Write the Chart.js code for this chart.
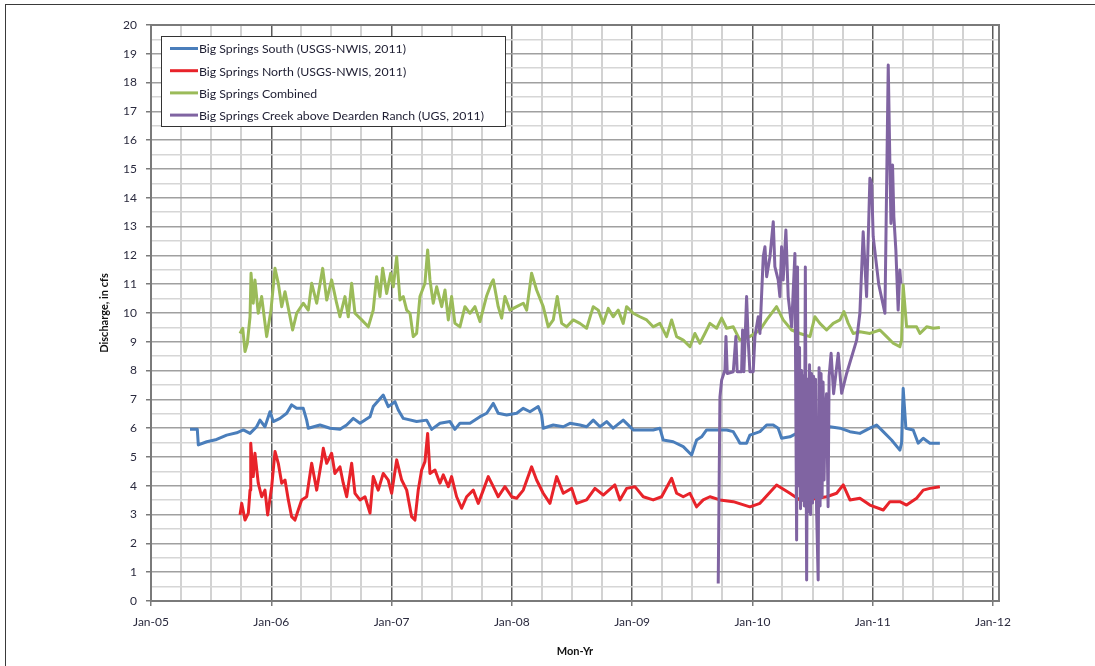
<!DOCTYPE html>
<html>
<head>
<meta charset="utf-8">
<script src="https://cdn.jsdelivr.net/npm/chart.js@4.4.0/dist/chart.umd.min.js"></script>
<style>
html,body{margin:0;padding:0;background:#fff;}
#wrap{position:relative;width:1095px;height:666px;overflow:hidden;background:#fff;}
#frame{position:absolute;left:5px;top:4px;width:1200px;height:800px;border-top:1px solid #3a3a3a;border-left:1px solid #3a3a3a;}
canvas{position:absolute;left:0;top:0;}
</style>
</head>
<body>
<div id="wrap"><div id="frame"></div><canvas id="c" width="1095" height="666"></canvas></div>
<script>
// x values: months since Jan 2005; y values: discharge in cfs
const seriesNames = [
  'Big Springs South (USGS-NWIS, 2011)',
  'Big Springs North (USGS-NWIS, 2011)',
  'Big Springs Combined',
  'Big Springs Creek above Dearden Ranch (UGS, 2011)'
];
const yearTickLabels = ['Jan-05','Jan-06','Jan-07','Jan-08','Jan-09','Jan-10','Jan-11','Jan-12'];

const southSeries = [
  [3.89,5.96],[4.62,5.96],[4.72,5.42],[5.56,5.53],[6.55,5.61],[7.55,5.76],[8.55,5.84],[9.21,5.94],[9.88,5.82],
  [10.54,6.05],[10.87,6.28],[11.37,6.05],[11.87,6.57],[12.2,6.23],[12.87,6.34],[13.54,6.52],[14.03,6.81],[14.53,6.69],
  [15.19,6.69],[15.53,6.28],[15.69,6.0],[16.86,6.11],[17.86,6.0],[18.85,5.96],[19.52,6.11],[20.18,6.34],[20.85,6.17],
  [21.85,6.40],[22.17,6.75],[23.17,7.15],[23.67,6.75],[24.34,6.92],[24.67,6.63],[25.17,6.34],[26.5,6.23],[27.5,6.28],
  [28.0,5.96],[28.83,6.17],[29.83,6.23],[30.32,5.96],[30.82,6.17],[31.82,6.17],[32.82,6.40],[33.49,6.52],[34.15,6.86],
  [34.64,6.52],[35.48,6.46],[36.48,6.52],[37.14,6.69],[37.81,6.57],[38.63,6.75],[38.97,6.46],[39.13,6.0],[40.13,6.11],
  [41.13,6.05],[41.8,6.17],[42.79,6.11],[43.46,6.05],[44.12,6.28],[44.79,6.05],[45.46,6.23],[46.11,6.0],[47.11,6.28],
  [48.11,5.94],[49.11,5.94],[50.1,5.94],[50.77,6.0],[51.1,5.59],[52.1,5.53],[53.1,5.36],[53.93,5.07],[54.43,5.59],
  [54.93,5.70],[55.43,5.94],[56.76,5.94],[57.43,5.94],[58.09,5.88],[58.58,5.59],[58.75,5.48],[59.42,5.48],[59.75,5.76],
  [60.75,5.88],[61.42,6.11],[62.08,6.11],[62.57,6.0],[62.91,5.65],[63.74,5.70],[64.41,5.82],[65.07,5.94],[66.23,5.9],
  [67.73,6.05],[68.73,6.0],[69.73,5.88],[70.72,5.82],[71.72,6.0],[72.39,6.11],[73.05,5.88],[73.88,5.59],[74.71,5.24],
  [74.88,5.48],[75.04,7.38],[75.31,6.0],[76.04,5.94],[76.54,5.48],[77.04,5.65],[77.71,5.48],[78.7,5.48]
];

const northSeries = [
  [8.88,2.99],[9.05,3.39],[9.38,2.81],[9.71,3.05],[9.88,3.85],[9.95,5.48],[10.2,4.32],[10.37,5.13],[10.7,4.09],
  [11.04,3.62],[11.37,3.85],[11.64,2.99],[12.04,3.97],[12.37,5.19],[12.7,4.78],[13.04,4.09],[13.37,4.20],[13.7,3.51],
  [14.03,2.93],[14.36,2.81],[14.69,3.16],[15.03,3.51],[15.53,3.62],[16.03,4.78],[16.53,3.85],[17.03,4.90],[17.19,5.30],
  [17.53,4.78],[18.02,5.13],[18.35,4.43],[18.85,4.66],[19.18,4.09],[19.52,3.62],[20.02,4.78],[20.35,3.74],[20.85,3.51],
  [21.35,3.62],[21.85,3.05],[22.17,4.32],[22.67,3.85],[23.17,4.43],[23.67,4.20],[24.01,3.74],[24.51,4.90],[25.01,4.20],
  [25.51,3.85],[26.0,2.93],[26.33,2.81],[26.66,3.85],[27.0,4.55],[27.33,4.84],[27.6,5.82],[27.83,4.43],[28.33,4.55],
  [28.83,4.09],[29.16,4.38],[29.66,3.97],[29.99,4.32],[30.49,3.62],[30.99,3.22],[31.49,3.62],[32.15,3.85],[32.65,3.39],
  [33.15,3.85],[33.65,4.32],[34.15,3.97],[34.64,3.62],[35.31,3.97],[35.98,3.62],[36.48,3.57],[37.14,3.85],[37.97,4.66],
  [38.47,4.20],[39.13,3.74],[39.8,3.39],[40.47,4.32],[41.13,3.74],[41.97,3.91],[42.46,3.39],[43.46,3.51],[44.29,3.91],
  [45.12,3.68],[46.28,4.03],[46.78,3.51],[47.45,3.91],[48.28,3.97],[49.11,3.62],[50.1,3.51],[50.94,3.62],[51.94,4.26],
  [52.44,3.74],[53.1,3.62],[53.77,3.74],[54.43,3.27],[55.09,3.51],[55.76,3.62],[56.76,3.51],[58.09,3.45],[59.75,3.27],
  [60.75,3.39],[62.41,4.03],[63.74,3.74],[64.74,3.51],[66.23,3.55],[67.4,3.62],[68.4,3.74],[69.06,4.03],[69.73,3.51],
  [70.72,3.57],[71.72,3.33],[73.05,3.16],[73.72,3.45],[74.71,3.45],[75.38,3.33],[76.38,3.57],[77.04,3.85],[77.71,3.91],
  [78.7,3.97]
];

const combinedSeries = [
  [8.88,9.29],[9.15,9.47],[9.38,8.66],[9.61,8.95],[9.88,9.87],[9.98,11.38],[10.2,10.34],[10.37,11.15],[10.7,9.99],
  [11.04,10.57],[11.54,9.18],[11.97,10.1],[12.37,11.55],[12.7,11.03],[13.04,10.22],[13.37,10.74],[13.8,9.99],[14.13,9.41],
  [14.53,9.99],[15.19,10.34],[15.69,10.1],[16.03,11.03],[16.53,10.34],[17.13,11.55],[17.53,10.45],[18.02,11.15],[18.52,10.34],
  [18.85,9.87],[19.35,10.57],[19.68,9.87],[20.02,11.03],[20.35,9.99],[21.02,9.76],[21.68,9.52],[22.17,10.1],[22.51,11.26],
  [22.84,10.57],[23.11,11.55],[23.51,10.68],[23.91,11.38],[24.17,10.91],[24.51,11.95],[24.84,10.45],[25.17,10.57],[25.51,10.1],
  [25.84,9.99],[26.16,9.18],[26.5,9.29],[26.83,10.57],[27.33,11.03],[27.6,12.19],[27.83,11.15],[28.16,10.34],[28.5,10.91],
  [29.0,10.22],[29.33,10.80],[29.66,9.76],[29.99,10.57],[30.32,9.64],[30.82,9.52],[31.32,10.22],[31.82,9.99],[32.32,10.22],
  [32.82,9.7],[33.49,10.6],[33.98,11.05],[34.15,11.15],[34.64,10.22],[34.98,9.82],[35.31,10.57],[35.81,10.1],[36.48,10.22],
  [37.14,10.34],[37.48,10.1],[37.97,11.38],[38.47,10.80],[39.13,10.22],[39.63,9.52],[40.13,9.76],[40.53,10.57],[40.97,9.64],
  [41.47,9.52],[42.13,9.76],[42.79,9.64],[43.46,9.47],[44.12,10.22],[44.62,10.1],[45.12,9.64],[45.62,10.16],[46.11,9.87],
  [46.61,10.1],[47.11,9.64],[47.45,10.22],[48.11,9.99],[48.78,9.87],[49.45,9.76],[50.1,9.52],[50.77,9.64],[51.44,9.18],
  [51.94,9.76],[52.44,9.18],[53.1,9.06],[53.77,8.83],[54.26,9.29],[54.76,8.95],[55.26,9.29],[55.76,9.64],[56.43,9.47],
  [56.93,9.82],[57.43,9.47],[58.09,9.52],[58.75,9.06],[59.75,9.18],[60.75,9.41],[61.42,9.76],[62.41,10.22],[63.07,9.76],
  [63.91,9.41],[64.74,9.29],[65.74,9.18],[66.23,9.87],[66.73,9.64],[67.4,9.41],[68.06,9.64],[68.73,9.76],[69.13,10.05],
  [69.56,9.64],[70.05,9.29],[70.72,9.35],[71.72,9.29],[72.72,9.41],[73.39,9.18],[74.05,8.95],[74.71,8.83],[74.88,9.06],
  [75.04,10.97],[75.38,9.52],[76.38,9.52],[76.71,9.29],[77.38,9.52],[78.04,9.47],[78.7,9.5]
];

const creekSeries = [
  [56.59,0.61],[56.76,7.09],[56.93,7.67],[57.26,8.02],[57.36,9.18],[57.49,7.9],[58.09,7.96],[58.35,9.18],[58.48,7.96],
  [58.92,7.96],[59.02,9.41],[59.15,7.96],[59.42,10.57],[59.58,9.06],[59.75,7.96],[60.08,7.96],[60.25,9.18],[60.58,9.87],
  [60.75,9.29],[61.08,11.95],[61.25,12.30],[61.42,11.26],[61.75,11.95],[62.08,13.17],[62.24,11.61],[62.57,11.15],[62.74,10.57],
  [62.91,12.30],[63.07,11.15],[63.34,12.88],[63.57,10.57],[63.91,9.52],[64.24,12.07],[64.41,2.12],[64.5,11.6],[64.6,4.0],
  [64.7,8.8],[64.8,3.2],[64.91,8.0],[65.0,3.5],[65.08,7.8],[65.18,3.3],[65.28,11.6],[65.41,0.73],[65.5,7.7],
  [65.6,3.1],[65.7,8.2],[65.8,3.0],[65.9,7.9],[66.0,3.4],[66.1,7.8],[66.2,3.6],[66.3,7.7],[66.4,3.2],
  [66.56,0.73],[66.65,8.1],[66.75,3.3],[66.85,7.9],[66.95,3.6],[67.05,7.6],[67.15,4.2],[67.25,6.5],[67.4,7.2],
  [67.55,3.27],[67.65,7.8],[67.85,8.6],[68.1,7.2],[68.56,8.6],[68.9,7.21],[69.4,7.90],[69.9,8.48],[70.4,9.06],
  [70.72,9.99],[71.05,12.82],[71.39,10.57],[71.55,12.53],[71.72,14.68],[71.89,14.50],[72.05,12.65],[72.6,11.0],[73.22,9.99],
  [73.55,18.61],[73.72,15.08],[73.82,13.11],[73.98,15.14],[74.11,13.34],[74.31,12.19],[74.54,10.1],[74.71,11.49],[74.81,11.03]
];

const seriesColors = ['#4a7ebb', '#e8232a', '#9bbb59', '#8064a2'];

const toPoints = s => s.map(p => ({x: p[0], y: p[1]}));

const legendBox = {
  id: 'legendBox',
  afterDatasetsDraw(chart) {
    const ctx = chart.ctx, a = chart.chartArea;
    const x0 = a.left + 10, y0 = a.top + 11, w = 344, h = 90;
    ctx.save();
    ctx.fillStyle = '#fff';
    ctx.fillRect(x0, y0, w, h);
    ctx.strokeStyle = '#333333';
    ctx.lineWidth = 1;
    ctx.strokeRect(x0 + 0.5, y0 + 0.5, w, h);
    ctx.font = '12.3px Lato';
    ctx.textBaseline = 'middle';
    ctx.textAlign = 'left';
    chart.data.datasets.forEach((ds, i) => {
      const y = y0 + 12.5 + i * 22.2;
      ctx.strokeStyle = ds.borderColor;
      ctx.lineWidth = 3;
      ctx.beginPath();
      ctx.moveTo(x0 + 9, y);
      ctx.lineTo(x0 + 37, y);
      ctx.stroke();
      ctx.fillStyle = '#1e1e32';
      ctx.fillText(ds.label, x0 + 38, y + 1);
    });
    ctx.restore();
  }
};

const plotBorder = {
  id: 'plotBorder',
  afterDatasetsDraw(chart) {
    const ctx = chart.ctx, a = chart.chartArea;
    ctx.save();
    ctx.strokeStyle = '#7a7a7a';
    ctx.lineWidth = 2;
    ctx.strokeRect(a.left, a.top, a.right - a.left, a.bottom - a.top);
    ctx.restore();
  }
};

const datasets = [southSeries, northSeries, combinedSeries, creekSeries].map((s, i) => ({
  label: seriesNames[i],
  data: toPoints(s),
  borderColor: seriesColors[i],
  backgroundColor: seriesColors[i],
  borderWidth: 3,
  pointRadius: 0,
  tension: 0,
  fill: false,
  borderJoinStyle: 'round',
  order: i === 3 ? 0 : 1
}));

new Chart(document.getElementById('c'), {
  type: 'line',
  data: { datasets },
  options: {
    responsive: false,
    animation: false,
    events: [],
    layout: { padding: { left: 98, right: 96, top: 25, bottom: 0 } },
    plugins: { legend: { display: false }, tooltip: { enabled: false } },
    scales: {
      x: {
        type: 'linear',
        min: 0,
        max: 84.6,
        afterFit(s) { s.height = 65; },
        border: { display: true, color: '#7a7a7a', width: 2 },
        grid: {
          color: c => (c.tick && Math.round(c.tick.value) % 12 === 0) ? '#5c5c5c' : '#d2d2d2',
          lineWidth: c => (c.tick && Math.round(c.tick.value) % 12 === 0) ? 1.5 : 2,
          tickColor: c => (c.tick && Math.round(c.tick.value) % 12 === 0) ? '#7a7a7a' : 'rgba(0,0,0,0)',
          tickLength: 5
        },
        ticks: {
          stepSize: 3,
          includeBounds: false,
          autoSkip: false,
          maxRotation: 0,
          padding: 9,
          color: '#2a2a3e',
          font: { family: 'Lato', size: 12 },
          callback: v => (Math.round(v) % 12 === 0) ? yearTickLabels[Math.round(v) / 12] : ''
        },
        title: {
          display: true,
          text: 'Mon-Yr',
          color: '#111',
          font: { family: 'Lato', size: 11, weight: 'bold' },
          padding: { top: 0, bottom: 8 }
        }
      },
      y: {
        min: 0,
        max: 20,
        afterFit(s) { s.width = 53; },
        border: { display: true, color: '#7a7a7a', width: 2 },
        grid: {
          color: c => (c.tick && Number.isInteger(c.tick.value)) ? '#a0a0a0' : '#d6d6d6',
          lineWidth: 1.5,
          tickColor: c => (c.tick && Number.isInteger(c.tick.value)) ? '#7a7a7a' : 'rgba(0,0,0,0)',
          tickLength: 5
        },
        ticks: {
          stepSize: 0.5,
          autoSkip: false,
          padding: 9,
          color: '#2a2a3e',
          font: { family: 'Lato', size: 12 },
          callback: v => Number.isInteger(v) ? String(v) : ''
        },
        title: {
          display: true,
          text: 'Discharge, in cfs',
          color: '#111',
          font: { family: 'Lato', size: 11, weight: 'bold' },
          padding: { top: 0, bottom: 0 }
        }
      }
    }
  },
  plugins: [legendBox, plotBorder]
});
</script>
</body>
</html>
